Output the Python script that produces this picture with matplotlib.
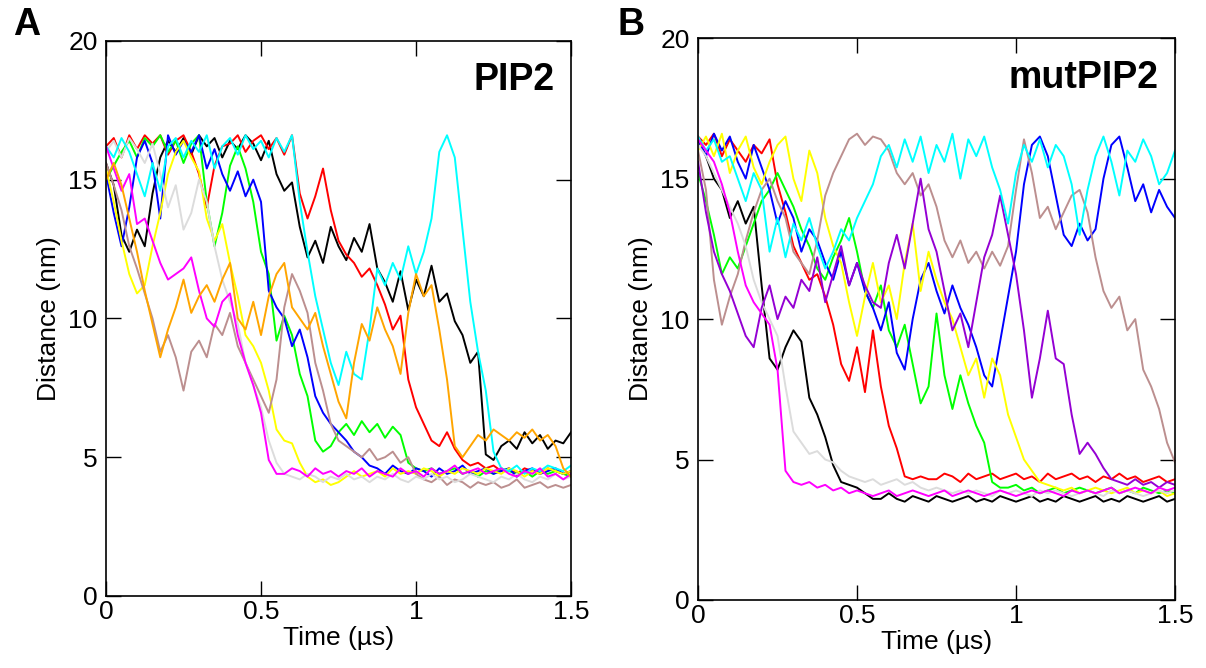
import matplotlib
matplotlib.use("Agg")
import matplotlib.pyplot as plt
import numpy as np

plt.rcParams["font.family"] = ["Liberation Sans", "DejaVu Sans"]

# sampling time of the traces (us), one frame every 0.025 us
time = np.linspace(0.0, 1.5, 61)

# ---- panel A: PIP2 ----
black_a = [15.6, 14.8, 13.0, 12.4, 13.2, 12.6, 14.5, 15.8, 16.4, 16.0,
           16.5, 15.9, 16.6, 16.2, 16.5, 15.8, 16.4, 16.1, 16.6, 16.3,
           15.7, 16.4, 15.2, 14.6, 14.9, 13.3, 12.2, 12.8, 12.0, 13.3,
           12.6, 12.1, 12.9, 12.4, 13.4, 11.8, 11.3, 10.6, 11.7, 10.3,
           11.4, 10.8, 11.9, 10.6, 10.9, 9.9, 9.4, 8.4, 8.8, 5.1,
           4.9, 5.4, 5.6, 5.3, 5.9, 5.5, 5.8, 5.3, 5.6, 5.5, 5.9]
red_a = [16.2, 16.5, 15.8, 16.6, 16.1, 16.6, 16.3, 16.6, 15.9, 16.4,
         16.6, 16.0, 15.2, 14.0, 15.5, 16.2, 16.3, 16.6, 16.0, 16.4,
         16.6, 16.1, 16.5, 15.9, 16.6, 14.5, 13.6, 14.4, 15.4, 13.9,
         12.8, 12.3, 12.0, 11.5, 11.8, 11.2, 10.5, 9.6, 10.1, 7.8,
         6.8, 6.2, 5.6, 5.4, 5.9, 5.3, 4.9, 4.7, 4.8, 4.6,
         4.7, 4.5, 4.6, 4.4, 4.6, 4.5, 4.4, 4.6, 4.5, 4.4, 4.5]
green_a = [15.0, 15.5, 16.0, 16.4, 15.8, 16.5, 16.2, 16.6, 16.0, 16.4,
           15.6, 16.3, 16.6, 14.2, 12.6, 13.8, 15.5, 16.2, 15.4, 14.2,
           12.4, 11.6, 9.2, 10.1, 9.4, 8.0, 7.2, 5.6, 5.2, 5.4,
           5.9, 6.2, 5.8, 6.3, 5.9, 6.2, 5.7, 6.1, 5.8, 4.8,
           4.6, 4.5, 4.6, 4.4, 4.5, 4.6, 4.4, 4.5, 4.3, 4.5,
           4.4, 4.6, 4.5, 4.4, 4.5, 4.3, 4.5, 4.4, 4.5, 4.4, 4.3]
blue_a = [15.2, 13.8, 12.6, 14.0, 15.8, 16.4, 15.6, 13.6, 16.6, 15.9,
          16.4, 16.0, 16.6, 15.4, 16.1, 15.2, 14.6, 15.3, 14.4, 15.0,
          14.2, 11.0, 10.4, 10.0, 9.0, 9.6, 8.6, 7.2, 6.6, 6.2,
          5.9, 5.6, 5.2, 5.0, 4.7, 4.6, 4.4, 4.7, 4.5, 4.4,
          4.6, 4.5, 4.3, 4.6, 4.4, 4.5, 4.7, 4.4, 4.5, 4.6,
          4.4, 4.5, 4.6, 4.3, 4.5, 4.6, 4.4, 4.5, 4.6, 4.4, 4.5]
yellow_a = [15.4, 14.2, 12.8, 11.6, 10.9, 11.2, 12.6, 13.8, 15.2, 16.0,
            16.4, 15.8, 15.3, 13.6, 12.8, 13.4, 12.0, 10.8, 9.4, 9.0,
            8.4, 7.4, 6.0, 5.6, 5.5, 4.8, 4.3, 4.1, 4.2, 4.0,
            4.1, 4.3, 4.5, 4.3, 4.4, 4.5, 4.3, 4.6, 4.4, 4.5,
            4.4, 4.6, 4.5, 4.3, 4.5, 4.4, 4.6, 4.5, 4.4, 4.6,
            4.5, 4.4, 4.6, 4.5, 4.3, 4.5, 4.4, 4.6, 4.5, 4.4, 4.5]
brown_a = [15.6, 14.8, 13.9, 12.6, 11.8, 10.9, 10.0, 8.8, 9.4, 8.6,
           7.4, 8.8, 9.2, 8.6, 9.8, 9.4, 10.2, 9.0, 8.4, 7.8,
           7.2, 6.6, 7.8, 10.4, 11.6, 11.0, 10.2, 8.4, 7.4, 6.2,
           5.6, 5.4, 5.2, 5.0, 5.3, 4.9, 5.0, 5.2, 4.8, 5.0,
           4.4, 4.2, 4.1, 4.3, 4.0, 4.2, 4.1, 3.9, 4.1, 4.0,
           4.1, 3.9, 4.0, 4.2, 3.9, 4.0, 4.1, 3.9, 4.0, 3.9, 4.0]
grey_a = [16.0, 16.4, 15.8, 16.5, 16.1, 15.6, 16.3, 15.2, 14.0, 14.8,
          13.2, 13.8, 15.0, 14.2, 12.6, 11.4, 10.6, 9.8, 8.4, 7.6,
          6.8, 5.6, 4.8, 4.4, 4.3, 4.2, 4.4, 4.3, 4.1, 4.3,
          4.2, 4.4, 4.2, 4.3, 4.1, 4.3, 4.2, 4.4, 4.2, 4.1,
          4.3, 4.2, 4.4, 4.2, 4.3, 4.1, 4.2, 4.4, 4.3, 4.2,
          4.1, 4.3, 4.2, 4.4, 4.2, 4.1, 4.3, 4.2, 4.4, 4.2, 4.3]
cyan_a = [16.2, 15.8, 16.5, 16.0, 15.2, 14.4, 15.6, 14.6, 16.2, 16.5,
          15.8, 16.4, 16.0, 16.6, 15.4, 16.2, 16.5, 15.9, 16.6, 16.1,
          16.4, 15.8, 16.5, 16.0, 16.6, 14.2, 12.4, 10.8, 9.6, 8.4,
          7.6, 8.8, 8.0, 7.8, 9.6, 11.8, 11.2, 12.0, 11.4, 12.6,
          11.6, 12.4, 13.6, 16.0, 16.6, 15.8, 13.2, 10.6, 8.8, 7.4,
          5.2, 4.6, 4.5, 4.7, 4.4, 4.6, 4.5, 4.7, 4.6, 4.5, 4.7]
magenta_a = [16.2, 15.4, 14.6, 15.2, 13.4, 13.6, 12.8, 12.0, 11.4, 11.6,
             11.8, 12.2, 11.0, 10.0, 9.7, 10.6, 10.9, 9.4, 8.4, 7.6,
             6.6, 4.9, 4.4, 4.4, 4.6, 4.5, 4.3, 4.6, 4.4, 4.5,
             4.3, 4.5, 4.4, 4.6, 4.3, 4.5, 4.4, 4.3, 4.6, 4.4,
             4.5, 4.3, 4.6, 4.4, 4.5, 4.7, 4.4, 4.5, 4.6, 4.4,
             4.5, 4.6, 4.4, 4.3, 4.5, 4.4, 4.6, 4.3, 4.4, 4.2, 4.4]
orange_a = [15.0, 15.6, 14.8, 13.6, 12.4, 11.0, 9.8, 8.6, 9.6, 10.4,
            11.4, 10.2, 10.8, 11.2, 10.6, 11.4, 12.0, 10.0, 9.6, 10.6,
            9.4, 10.8, 11.6, 12.0, 10.4, 10.0, 9.6, 10.2, 9.0, 8.0,
            7.0, 6.4, 8.4, 9.8, 9.2, 10.4, 9.6, 9.0, 8.0, 10.2,
            11.6, 10.8, 11.2, 9.6, 7.8, 5.4, 5.0, 5.4, 5.8, 5.6,
            6.0, 5.8, 5.6, 5.9, 5.7, 6.0, 5.6, 5.8, 5.4, 4.6, 4.3]

# ---- panel B: mutPIP2 ----
black_b = [16.4, 15.8, 15.0, 14.6, 13.6, 14.2, 13.4, 14.0, 11.2, 8.6,
           8.2, 9.0, 9.6, 9.2, 7.2, 6.6, 5.8, 4.8, 4.2, 4.1,
           4.0, 3.8, 3.6, 3.6, 3.8, 3.6, 3.5, 3.7, 3.6, 3.5,
           3.7, 3.6, 3.5, 3.6, 3.7, 3.5, 3.6, 3.5, 3.7, 3.6,
           3.5, 3.6, 3.7, 3.5, 3.6, 3.5, 3.7, 3.6, 3.5, 3.6,
           3.7, 3.5, 3.6, 3.5, 3.7, 3.6, 3.5, 3.6, 3.7, 3.5, 3.6]
red_b = [16.5, 16.2, 16.6, 15.8, 16.4, 16.0, 15.6, 16.2, 15.9, 16.4,
         14.8, 13.8, 12.6, 12.0, 11.4, 11.6, 10.8, 9.8, 8.4, 7.8,
         9.0, 7.4, 9.6, 7.6, 6.2, 5.4, 4.4, 4.3, 4.4, 4.3,
         4.3, 4.5, 4.4, 4.2, 4.5, 4.3, 4.4, 4.5, 4.3, 4.4,
         4.5, 4.3, 4.4, 4.2, 4.5, 4.3, 4.4, 4.5, 4.3, 4.4,
         4.2, 4.4, 4.3, 4.5, 4.3, 4.4, 4.2, 4.3, 4.4, 4.2, 4.3]
green_b = [15.2, 14.2, 13.0, 11.6, 12.2, 11.8, 12.6, 13.4, 14.2, 14.6,
           15.2, 14.6, 14.0, 13.2, 12.6, 11.8, 11.4, 12.2, 12.8, 13.6,
           12.4, 11.0, 10.4, 11.2, 9.6, 9.0, 9.8, 8.4, 7.0, 7.6,
           10.2, 8.0, 6.8, 8.0, 7.0, 6.2, 5.6, 4.2, 4.0, 4.0,
           4.1, 3.9, 4.0, 3.8, 3.9, 4.0, 3.8, 3.9, 4.0, 3.9,
           3.8, 3.9, 4.0, 3.8, 3.9, 3.8, 4.0, 3.9, 3.8, 3.9, 3.8]
blue_b = [16.4, 15.8, 16.6, 16.0, 16.5, 15.6, 15.0, 16.2, 15.4, 14.6,
          13.4, 14.2, 13.6, 12.4, 13.2, 12.8, 12.0, 11.4, 12.4, 11.2,
          12.0, 11.0, 10.4, 9.6, 10.6, 8.8, 8.2, 10.0, 11.4, 12.0,
          11.0, 10.2, 11.2, 10.4, 9.8, 9.0, 8.0, 7.6, 9.2, 10.8,
          12.4, 14.8, 16.2, 16.5, 15.8, 14.4, 13.0, 12.6, 13.4, 12.8,
          13.2, 15.0, 16.2, 16.5, 15.4, 14.2, 14.8, 13.8, 14.6, 14.0, 13.6]
yellow_b = [16.0, 16.5, 15.8, 16.6, 15.2, 16.0, 16.5, 15.4, 14.8, 15.6,
            16.2, 16.5, 15.0, 14.2, 16.0, 15.2, 13.6, 12.6, 12.0, 10.6,
            9.4, 10.8, 12.0, 10.6, 11.2, 10.0, 12.0, 13.4, 11.0, 12.4,
            11.4, 10.6, 10.0, 9.0, 8.0, 8.6, 7.2, 8.6, 8.0, 6.6,
            5.8, 5.0, 4.6, 4.2, 4.1, 4.0, 3.9, 4.0, 3.8, 3.9,
            4.0, 3.9, 3.8, 3.9, 4.0, 3.8, 3.9, 3.8, 3.9, 3.7, 3.8]
brown_b = [16.0, 14.6, 11.4, 9.8, 10.8, 11.6, 12.8, 13.8, 14.6, 15.0,
           14.2, 13.6, 12.4, 12.0, 11.6, 12.8, 14.4, 15.2, 15.8, 16.4,
           16.6, 16.2, 16.5, 16.4, 16.0, 15.2, 14.8, 15.2, 14.4, 14.8,
           14.0, 12.8, 12.2, 12.8, 12.0, 12.4, 11.8, 12.4, 11.9, 12.6,
           14.6, 16.4, 15.2, 13.6, 14.0, 13.2, 13.8, 14.4, 14.6, 13.8,
           12.2, 11.0, 10.4, 10.8, 9.6, 10.0, 8.2, 7.6, 6.8, 5.6, 4.9]
grey_b = [16.2, 15.8, 15.2, 14.6, 14.0, 13.4, 12.6, 11.4, 10.6, 10.0,
          9.4, 7.6, 6.0, 5.6, 5.2, 5.3, 5.0, 4.9, 4.6, 4.4,
          4.3, 4.2, 4.3, 4.1, 4.2, 4.3, 4.1, 4.2, 4.0, 3.9,
          4.0, 3.9, 3.8, 3.9, 3.8, 3.9, 3.8, 3.7, 3.9, 3.8,
          3.9, 3.8, 3.7, 3.9, 3.8, 3.9, 3.8, 3.7, 3.8, 3.9,
          3.8, 3.7, 3.9, 3.8, 3.9, 3.8, 3.7, 3.8, 3.9, 3.8, 3.9]
violet_b = [15.6, 13.8, 12.4, 11.6, 11.0, 10.2, 9.4, 9.0, 10.4, 11.2,
            10.0, 10.8, 10.4, 11.4, 11.0, 12.2, 10.6, 11.6, 12.6, 11.2,
            12.0, 11.2, 10.6, 10.4, 12.0, 13.0, 11.8, 13.4, 15.0, 13.2,
            12.4, 11.0, 9.6, 10.2, 9.0, 10.6, 12.2, 13.0, 14.4, 13.0,
            11.6, 9.6, 7.2, 8.6, 10.3, 8.6, 8.4, 6.6, 5.2, 5.6,
            5.2, 4.7, 4.3, 4.2, 4.1, 4.3, 4.1, 4.2, 4.0, 4.2, 4.1]
cyan_b = [16.5, 16.0, 16.4, 15.6, 15.8, 15.0, 14.2, 15.2, 14.6, 12.4,
          13.6, 12.2, 13.4, 12.8, 13.6, 12.6, 11.8, 12.4, 13.2, 12.8,
          13.6, 14.2, 14.8, 15.8, 16.2, 15.4, 16.4, 15.6, 16.5, 15.2,
          16.2, 15.6, 16.6, 15.0, 16.4, 15.8, 16.5, 15.4, 14.6, 13.4,
          15.2, 16.2, 15.6, 16.4, 15.4, 16.2, 15.8, 14.8, 13.0, 14.6,
          15.8, 16.5, 15.6, 14.4, 16.0, 15.6, 16.4, 15.8, 14.8, 15.2, 16.0]
magenta_b = [16.4, 16.0, 15.6, 14.8, 13.8, 12.4, 11.2, 10.6, 10.2, 9.8,
             8.2, 4.6, 4.2, 4.1, 4.2, 4.0, 4.1, 3.9, 4.0, 3.8,
             3.9, 3.8, 3.7, 3.8, 3.9, 3.7, 3.8, 3.9, 3.8, 3.7,
             3.8, 3.9, 3.7, 3.8, 3.9, 3.8, 3.7, 3.8, 3.9, 3.8,
             3.7, 3.8, 3.9, 3.8, 3.9, 3.8, 3.7, 3.9, 3.8, 3.9,
             3.8, 3.9, 4.0, 3.8, 3.9, 4.0, 3.9, 3.8, 4.0, 3.9, 4.0]

# xmgrace default palette
BLACK, RED, GREEN, BLUE = "#000000", "#ff0000", "#00ff00", "#0000ff"
YELLOW, BROWN, GREY = "#ffff00", "#bc8f8f", "#dcdcdc"
VIOLET, CYAN, MAGENTA, ORANGE = "#9400d3", "#00ffff", "#ff00ff", "#ffa500"

panel_a = [(black_a, BLACK), (red_a, RED), (green_a, GREEN), (blue_a, BLUE),
           (yellow_a, YELLOW), (brown_a, BROWN), (grey_a, GREY),
           (cyan_a, CYAN), (magenta_a, MAGENTA), (orange_a, ORANGE)]
panel_b = [(black_b, BLACK), (red_b, RED), (green_b, GREEN), (blue_b, BLUE),
           (yellow_b, YELLOW), (brown_b, BROWN), (grey_b, GREY),
           (violet_b, VIOLET), (cyan_b, CYAN), (magenta_b, MAGENTA)]


def style_axes(ax):
    ax.set_xlim(0, 1.5)
    ax.set_ylim(0, 20)
    ax.set_xticks([0, 0.5, 1, 1.5])
    ax.set_xticklabels(["0", "0.5", "1", "1.5"])
    ax.set_yticks([0, 5, 10, 15, 20])
    ax.tick_params(direction="in", length=11, width=1.0, labelsize=19,
                   top=True, right=True)
    ax.tick_params(axis="x", pad=3)
    ax.tick_params(axis="y", pad=6)
    for s in ax.spines.values():
        s.set_linewidth(1.2)
    ax.set_xlabel("Time (µs)", fontsize=19, labelpad=1)
    ax.set_ylabel("Distance (nm)", fontsize=19, labelpad=5)


fig = plt.figure(figsize=(12.06, 6.68), dpi=100)
ax_a = fig.add_axes([0.0879, 0.1078, 0.3856, 0.831])
ax_b = fig.add_axes([0.5788, 0.1018, 0.3955, 0.841])

for ax, traces in ((ax_a, panel_a), (ax_b, panel_b)):
    for vals, col in traces:
        ax.plot(time, vals, color=col, lw=1.4)
    style_axes(ax)

ax_a.text(0.965, 0.93, "PIP2", transform=ax_a.transAxes, ha="right", va="center",
          fontsize=27, fontweight="bold")
ax_b.text(0.965, 0.93, "mutPIP2", transform=ax_b.transAxes, ha="right", va="center",
          fontsize=27, fontweight="bold")
fig.text(0.022, 0.962, "A", fontsize=27, fontweight="bold", va="center", ha="center")
fig.text(0.523, 0.962, "B", fontsize=27, fontweight="bold", va="center", ha="center")

fig.savefig("out.png", dpi=100)
